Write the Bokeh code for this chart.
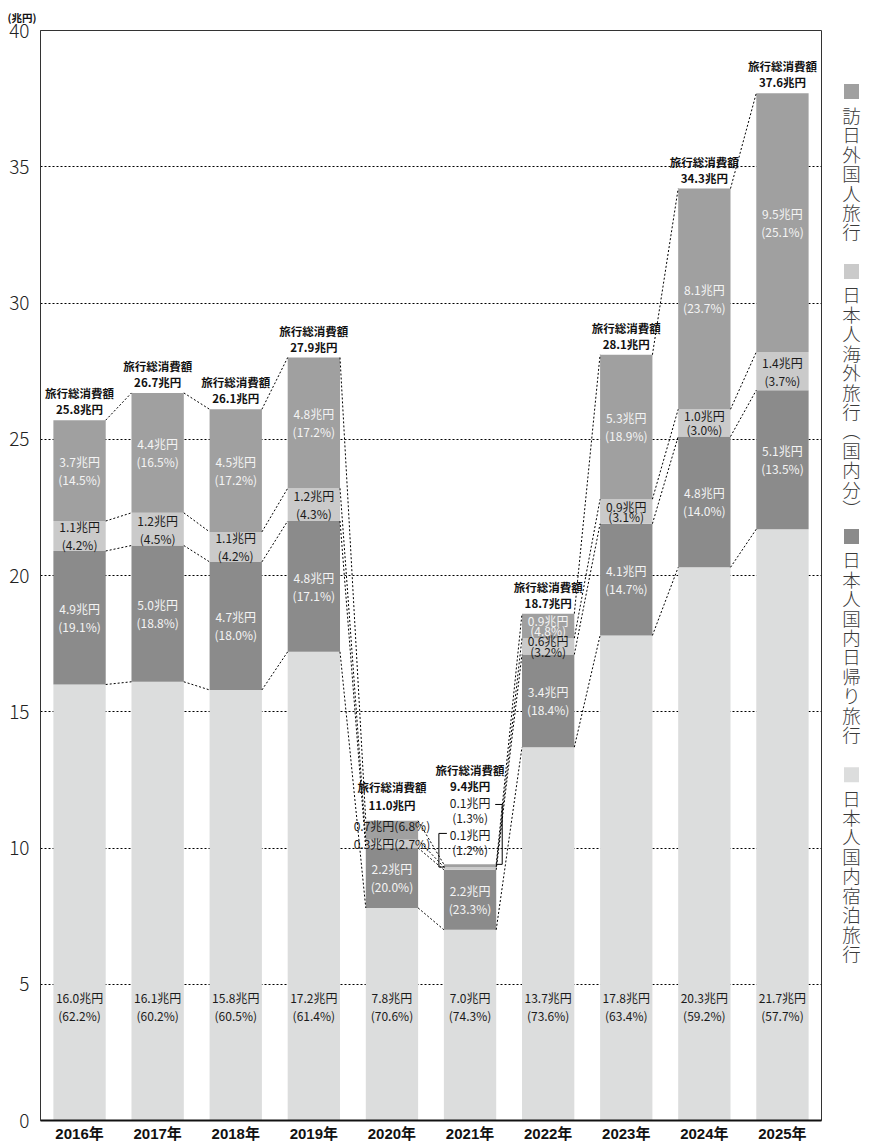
from bokeh.plotting import figure
from bokeh.layouts import row
from bokeh.models import ColumnDataSource, Range1d, FixedTicker
from bokeh.core.properties import value
from bokeh.embed import file_html
from bokeh.resources import INLINE

# ---------------- data ----------------
years = ["2016年", "2017年", "2018年", "2019年", "2020年",
         "2021年", "2022年", "2023年", "2024年", "2025年"]
stay = [16.0, 16.1, 15.8, 17.2, 7.8, 7.0, 13.7, 17.8, 20.3, 21.7]
day = [4.9, 5.0, 4.7, 4.8, 2.2, 2.2, 3.4, 4.1, 4.8, 5.1]
abroad = [1.1, 1.2, 1.1, 1.2, 0.3, 0.1, 0.6, 0.9, 1.0, 1.4]
inbound = [3.7, 4.4, 4.5, 4.8, 0.7, 0.1, 0.9, 5.3, 8.1, 9.5]
totals = [25.8, 26.7, 26.1, 27.9, 11.0, 9.4, 18.7, 28.1, 34.3, 37.6]
stay_pct = [62.2, 60.2, 60.5, 61.4, 70.6, 74.3, 73.6, 63.4, 59.2, 57.7]
day_pct = [19.1, 18.8, 18.0, 17.1, 20.0, 23.3, 18.4, 14.7, 14.0, 13.5]
abroad_pct = [4.2, 4.5, 4.2, 4.3, 2.7, 1.2, 3.2, 3.1, 3.0, 3.7]
inbound_pct = [14.5, 16.5, 17.2, 17.2, 6.8, 1.3, 4.8, 18.9, 23.7, 25.1]
legend_names = ["訪日外国人旅行", "日本人海外旅行︵国内分︶", "日本人国内日帰り旅行", "日本人国内宿泊旅行"]
y_ticks = [0, 5, 10, 15, 20, 25, 30, 35, 40]
unit_label = "(兆円)"
total_caption = "旅行総消費額"

# ---------------- style ----------------
C_INB = "#a0a0a0"
C_ABR = "#cacaca"
C_DAY = "#8b8b8b"
C_STAY = "#dcdddd"
TXT_DARK = "#1a1a1a"
TXT_LIGHT = "#f4f4f4"
FONT = "Noto Sans CJK JP"
FONT_LIGHT = "'Noto Sans CJK JP Light', 'Noto Sans CJK JP'"
W = 0.67

FIG_H = 1144
P_W = 823
LEG_W = 871 - P_W
B_L, B_R, B_T, B_B = 40, 2, 30, 22
PXX = 10.0 / (P_W - B_L - B_R)      # data units per px (x)
PXY = 40.0 / (FIG_H - B_T - B_B)    # data units per px (y)

xs = list(range(len(years)))
c1 = [a for a in stay]
c2 = [a + b for a, b in zip(c1, day)]
c3 = [a + b for a, b in zip(c2, abroad)]
c4 = [a + b for a, b in zip(c3, inbound)]

p = figure(width=P_W, height=FIG_H, x_range=Range1d(-0.5, 9.5), y_range=Range1d(0, 40),
           output_backend="svg", toolbar_location=None,
           min_border_left=B_L, min_border_right=B_R, min_border_top=B_T, min_border_bottom=B_B)
p.background_fill_color = "white"
p.border_fill_color = "white"
p.outline_line_color = "#333333"
p.outline_line_width = 1

# unit label as title
p.title.text = unit_label
p.title.align = "left"
p.title.offset = -33
p.title.standoff = 11
p.title.text_font = FONT
p.title.text_font_size = "10.5px"
p.title.text_font_style = "bold"
p.title.text_color = "#111111"

# grid
p.xgrid.grid_line_color = None
p.ygrid.ticker = FixedTicker(ticks=y_ticks)
p.ygrid.grid_line_color = "#000000"
p.ygrid.grid_line_dash = "2 2"
p.ygrid.grid_line_width = 1

# axes
p.yaxis.ticker = FixedTicker(ticks=y_ticks)
p.yaxis.major_tick_line_color = None
p.yaxis.minor_tick_line_color = None
p.yaxis.major_tick_out = 0
p.yaxis.minor_tick_out = 0
p.yaxis.axis_line_color = "#333333"
p.yaxis.major_label_text_font = FONT_LIGHT
p.yaxis.major_label_text_font_size = "19px"
p.yaxis.major_label_text_color = "#222222"
p.yaxis.major_label_standoff = 11

p.xaxis.ticker = FixedTicker(ticks=xs)
p.xaxis.major_label_overrides = {i: years[i] for i in xs}
p.xaxis.major_tick_line_color = None
p.xaxis.minor_tick_line_color = None
p.xaxis.major_tick_out = 0
p.xaxis.minor_tick_out = 0
p.xaxis.axis_line_color = "#111111"
p.xaxis.axis_line_width = 2
p.xaxis.major_label_text_font = "'Liberation Sans', 'Noto Sans CJK JP'"
p.xaxis.major_label_text_font_style = "bold"
p.xaxis.major_label_text_font_size = "15px"
p.xaxis.major_label_text_color = "#111111"
p.xaxis.major_label_standoff = 4

# bars
src = ColumnDataSource(dict(x=xs, stay=stay, day=day, abroad=abroad, inbound=inbound))
p.vbar_stack(["stay", "day", "abroad", "inbound"], x="x", width=W,
             fill_color=[C_STAY, C_DAY, C_ABR, C_INB], line_color=None, source=src)

# connectors
sx0, sy0, sx1, sy1 = [], [], [], []
for lev in (c1, c2, c3, c4):
    for i in range(len(xs) - 1):
        sx0.append(xs[i] + W / 2); sy0.append(lev[i])
        sx1.append(xs[i + 1] - W / 2); sy1.append(lev[i + 1])
p.segment(sx0, sy0, sx1, sy1, line_color="#000000", line_width=1, line_dash="2 2")

# segment labels
tight = {("abr", 6): 5.5, ("inb", 6): 5.0, ("abr", 7): 5.0, ("abr", 8): 7.0}
lx, ly, t1, t2, off, col = [], [], [], [], [], []
for i in xs:
    entries = [("stay", 4.2, stay[i], stay_pct[i], TXT_DARK),
               ("day", (c1[i] + c2[i]) / 2, day[i], day_pct[i], TXT_LIGHT)]
    if i not in (4, 5):
        entries.append(("abr", (c2[i] + c3[i]) / 2, abroad[i], abroad_pct[i], TXT_DARK))
        entries.append(("inb", (c3[i] + c4[i]) / 2, inbound[i], inbound_pct[i], TXT_LIGHT))
    for key, yy, v, pc, cc in entries:
        lx.append(xs[i]); ly.append(yy)
        t1.append(f"{v:.1f}兆円"); t2.append(f"({pc:.1f}%)")
        off.append(tight.get((key, i), 9.0)); col.append(cc)

common = dict(text_font=value(FONT), text_font_size="12px", text_align="center",
              text_baseline="middle")
p.text(x=lx, y=ly, text=t1, y_offset=[-o for o in off], text_color=col, **common)
p.text(x=lx, y=ly, text=t2, y_offset=off, text_color=col, **common)

# total labels
tot_off = {4: (-34, -16), 5: (-94, -78)}
tx, ty, tt1, tt2, o1, o2 = [], [], [], [], [], []
for i in xs:
    a, b = tot_off.get(i, (-27, -11))
    tx.append(xs[i]); ty.append(c4[i])
    tt1.append(total_caption); tt2.append(f"{totals[i]:.1f}兆円")
    o1.append(a); o2.append(b)
tot_common = dict(text_font=value(FONT), text_font_size="11.5px", text_font_style="bold",
                  text_align="center", text_baseline="middle", text_color="#111111")
p.text(x=tx, y=ty, text=tt1, y_offset=o1, **tot_common)
p.text(x=tx, y=ty, text=tt2, y_offset=o2, **tot_common)

# 2020 small segments (single-line labels over the bar top)
i = 4
p.text(x=[xs[i], xs[i]], y=[c4[i], c4[i]],
       text=[f"{inbound[i]:.1f}兆円({inbound_pct[i]:.1f}%)", f"{abroad[i]:.1f}兆円({abroad_pct[i]:.1f}%)"],
       y_offset=[5, 23], text_color=TXT_DARK, **common)

# 2021 small segments with brackets
i = 5
p.text(x=[xs[i]] * 4, y=[c4[i]] * 4,
       text=[f"{inbound[i]:.1f}兆円", f"({inbound_pct[i]:.1f}%)",
             f"{abroad[i]:.1f}兆円", f"({abroad_pct[i]:.1f}%)"],
       y_offset=[-62, -47, -30, -15], text_color=TXT_DARK, **common)
xr = xs[i] + W / 2
xl = xs[i] - W / 2
p.line([xr, xr + 6 * PXX, xr + 6 * PXX, xr - 1 * PXX],
       [c4[i], c4[i], c4[i] + 60 * PXY, c4[i] + 60 * PXY], line_color="#000000", line_width=1)
p.line([xl + 1 * PXX, xl - 5 * PXX, xl - 5 * PXX, xl + 3 * PXX],
       [c3[i], c3[i], c4[i] + 31 * PXY, c4[i] + 31 * PXY], line_color="#000000", line_width=1)

# ---------------- legend (vertical text), in pixel coordinates ----------------
leg = figure(width=LEG_W, height=FIG_H, x_range=Range1d(0, LEG_W), y_range=Range1d(FIG_H, 0),
             output_backend="svg", toolbar_location=None,
             min_border_left=0, min_border_right=0, min_border_top=0, min_border_bottom=0)
leg.axis.visible = False
leg.grid.visible = False
leg.outline_line_color = None
leg.background_fill_color = "white"
leg.border_fill_color = "white"

LEG_X = 851 - P_W
leg_sq = [64, 253, 531, 781]
leg_tx = [88.5, 277, 555, 805]
leg_cols = [C_INB, C_ABR, C_DAY, C_STAY]
PITCH = 20.4
leg.scatter(x=[LEG_X] * 4, y=leg_sq, marker="square", size=15, fill_color=leg_cols, line_color=None)
cx, cy, ct = [], [], []
for name, ty0 in zip(legend_names, leg_tx):
    for k, ch in enumerate(name):
        cx.append(LEG_X); cy.append(ty0 + k * PITCH); ct.append(ch)
leg.text(x=cx, y=cy, text=ct, text_font=value(FONT_LIGHT), text_font_size="18.5px",
         text_color="#3a3a3a", text_align="center", text_baseline="middle")

layout = row(p, leg, spacing=0)
open("out.html", "w").write(file_html(layout, INLINE))
